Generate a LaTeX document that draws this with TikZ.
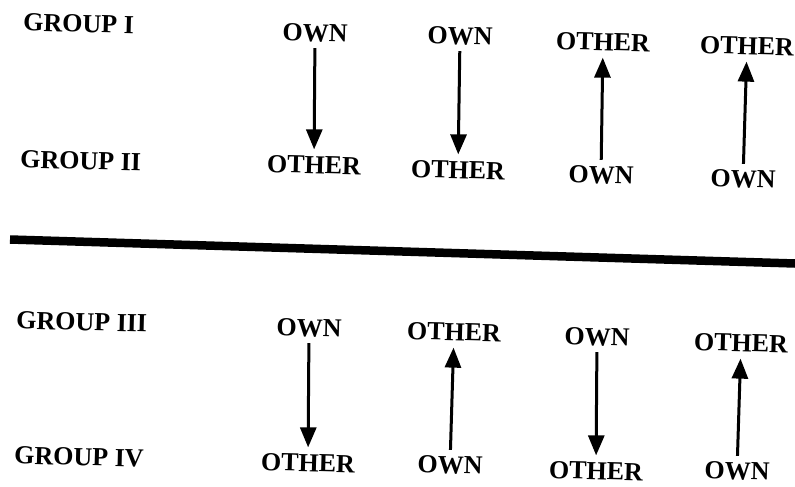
\documentclass[tikz,border=0pt]{standalone}
\usepackage{fontspec}
\setmainfont{Liberation Serif}
\usetikzlibrary{arrows.meta}

\begin{document}
\begin{tikzpicture}[x=1pt, y=-1pt, thick,
    word/.style={font=\bfseries\fontsize{26}{30}\selectfont, inner sep=2pt, rotate=-1.5},
    grp/.style={word, anchor=west},
    link/.style={line width=3pt, shorten <=4pt, shorten >=4.5pt,
      -{Triangle[width=16pt, length=20pt]}}]
  \useasboundingbox (0, 0) rectangle (795, 487);

  % group names
  \node[grp] (g1) at (21, 22) {GROUP I};
  \node[grp] (g2) at (18, 159) {GROUP II};
  \node[grp] (g3) at (14, 320) {GROUP III};
  \node[grp] (g4) at (12, 455) {GROUP IV};

  % upper half
  \node[word] (a1) at (315, 33) {OWN};
  \node[word] (b1) at (314, 165) {OTHER};
  \node[word] (a2) at (460, 36) {OWN};
  \node[word] (b2) at (458, 170) {OTHER};
  \node[word] (b3) at (603, 42) {OTHER};
  \node[word] (a3) at (601, 175) {OWN};
  \node[word] (b4) at (747, 46) {OTHER};
  \node[word] (a4) at (743, 179) {OWN};

  \draw[link] (a1) -- (b1);
  \draw[link] (a2) -- (b2);
  \draw[link] (a3) -- (b3);
  \draw[link] (a4) -- (b4);

  % dividing bar
  \draw[line width=8.5pt] (10, 239.5) -- (795, 263.5);

  % lower half
  \node[word] (c1) at (309, 328) {OWN};
  \node[word] (d1) at (308, 463) {OTHER};
  \node[word] (d2) at (454, 332) {OTHER};
  \node[word] (c2) at (450, 465) {OWN};
  \node[word] (c3) at (597, 337) {OWN};
  \node[word] (d3) at (596, 471) {OTHER};
  \node[word] (d4) at (741, 343) {OTHER};
  \node[word] (c4) at (737, 471) {OWN};

  \draw[link] (c1) -- (d1);
  \draw[link] (c2) -- (d2);
  \draw[link] (c3) -- (d3);
  \draw[link] (c4) -- (d4);
\end{tikzpicture}
\end{document}
